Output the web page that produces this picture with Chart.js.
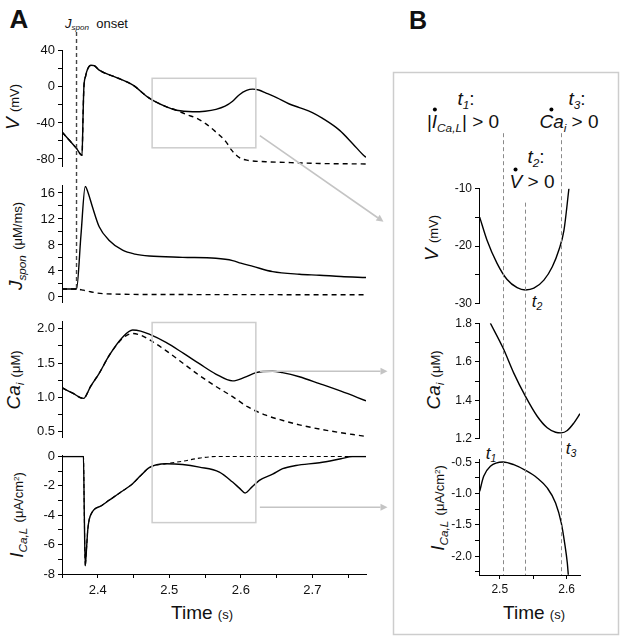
<!DOCTYPE html>
<html>
<head>
<meta charset="utf-8">
<script src="https://cdn.jsdelivr.net/npm/chart.js@4.4.1/dist/chart.umd.min.js"></script>
<style>
    body { margin: 0; background: #fff; }
    #page { position: relative; width: 625px; height: 642px; overflow: hidden; font-family: "Liberation Sans", Arial, sans-serif; color: #111; }
    canvas { position: absolute; }
    .t { position: absolute; white-space: nowrap; line-height: 1; transform: translate(-50%, -50%); }
    .rot { transform: translate(-50%, -50%) rotate(-90deg); }
    .ttl { font-size: 19px; }
    .sb { font-size: 0.62em; position: relative; top: 0.3em; }
    .sp { font-size: 0.62em; position: relative; top: -0.55em; }
    .u { font-size: 13px; }
    .d { position: relative; display: inline-block; }
    .d::before { content: ""; position: absolute; left: 50%; top: -4px; width: 4px; height: 4px; margin-left: -2px; border-radius: 50%; background: #000; }
</style>
</head>
<body>
<div id="page">
    <div class="t" style="left:19px;top:19px;font-size:26px;font-weight:bold">A</div>
    <div class="t" style="left:418px;top:20px;font-size:25px;font-weight:bold">B</div>
    <div class="t" style="left:65px;top:24px;font-size:13px;transform:translateY(-50%)"><i>J</i><span class="sb"><i>spon</i></span>&nbsp; onset</div>

    <!-- panel A axis titles -->
    <div class="t rot ttl" style="left:12px;top:107px"><i>V</i> <span class="u">(mV)</span></div>
    <div class="t rot ttl" style="left:15px;top:246px"><i>J</i><span class="sb"><i>spon</i></span> <span class="u">(μM/ms)</span></div>
    <div class="t rot ttl" style="left:13px;top:380px"><i>Ca</i><span class="sb"><i>i</i></span> <span class="u">(μM)</span></div>
    <div class="t rot ttl" style="left:16px;top:515px"><i>I</i><span class="sb"><i>Ca,L</i></span> <span class="u">(μA/cm<span class="sp">2</span>)</span></div>
    <div class="t ttl" style="left:202px;top:612px">Time <span class="u">(s)</span></div>

    <!-- panel B axis titles -->
    <div class="t rot ttl" style="left:431px;top:238px"><i>V</i> <span class="u">(mV)</span></div>
    <div class="t rot ttl" style="left:433px;top:380px"><i>Ca</i><span class="sb"><i>i</i></span> <span class="u">(μM)</span></div>
    <div class="t rot ttl" style="left:437px;top:508px"><i>I</i><span class="sb"><i>Ca,L</i></span> <span class="u">(μA/cm<span class="sp">2</span>)</span></div>
    <div class="t ttl" style="left:534px;top:612px">Time <span class="u">(s)</span></div>

    <!-- panel B event labels -->
    <div class="t ttl" style="left:466px;top:98px"><i>t</i><span class="sb"><i>1</i></span>:</div>
    <div class="t ttl" style="left:463px;top:121px">|<span class="d"><i>I</i></span><span class="sb"><i>Ca,L</i></span>| &gt; 0</div>
    <div class="t ttl" style="left:577px;top:98px"><i>t</i><span class="sb"><i>3</i></span>:</div>
    <div class="t ttl" style="left:569px;top:121px"><span class="d"><i>Ca</i></span><span class="sb"><i>i</i></span> &gt; 0</div>
    <div class="t ttl" style="left:536px;top:156px"><i>t</i><span class="sb"><i>2</i></span>:</div>
    <div class="t ttl" style="left:532px;top:181px"><span class="d"><i>V</i></span> &gt; 0</div>
    <div class="t" style="left:537px;top:301px;font-size:17px"><i>t</i><span class="sb"><i>2</i></span></div>
    <div class="t" style="left:571px;top:448px;font-size:17px"><i>t</i><span class="sb"><i>3</i></span></div>
    <div class="t" style="left:491px;top:453px;font-size:17px"><i>t</i><span class="sb"><i>1</i></span></div>
</div>

<script>
// ---- panel A (whole beat): solid = with J_spon, dashed = without ----
const tMinA = 2.35, tMaxA = 2.775;
const onsetTime = 2.3703;
const zoomWindow = [2.476, 2.621];

const vSolidT = [2.350, 2.360, 2.370, 2.378, 2.3795, 2.3805, 2.383, 2.386, 2.3905, 2.395, 2.402, 2.4255, 2.4487, 2.472, 2.4954, 2.510, 2.5326, 2.550, 2.5653, 2.578, 2.5885, 2.598, 2.608, 2.6165, 2.625, 2.6353, 2.650, 2.6678, 2.6818, 2.700, 2.7144, 2.7378, 2.7564, 2.7727, 2.775];
const vSolid = [-50, -59, -68, -76, -30, -2, 12, 20, 24, 23.5, 18.5, 10.6, 2.2, -12.5, -22, -26, -27.6, -27, -25, -21.5, -16, -8.7, -4, -2.5, -3.5, -6.9, -12, -19, -23, -28.5, -35, -48, -63, -76.7, -78];
const vDashT = [2.350, 2.360, 2.370, 2.378, 2.3795, 2.3805, 2.383, 2.386, 2.3905, 2.395, 2.402, 2.4255, 2.4487, 2.472, 2.4954, 2.510, 2.5234, 2.540, 2.5513, 2.565, 2.5793, 2.588, 2.598, 2.610, 2.635, 2.670, 2.710, 2.775];
const vDashed = [-50, -59, -68, -76, -30, -2, 12, 20, 24, 23.5, 18.5, 10.6, 2.2, -12.5, -22, -26, -30.5, -35.5, -41, -50, -61, -71, -78.5, -81.5, -83, -84, -85, -85.5];

const jSolidT = [2.350, 2.3703, 2.3765, 2.3825, 2.386, 2.3927, 2.402, 2.416, 2.4347, 2.452, 2.472, 2.5186, 2.565, 2.5885, 2.600, 2.617, 2.6445, 2.6818, 2.710, 2.740, 2.775];
const jSolid = [1.22, 1.22, 9.5, 17.0, 16.2, 13.8, 10.8, 8.7, 7.2, 6.6, 6.3, 6.1, 5.95, 5.6, 5.2, 4.7, 3.9, 3.5, 3.35, 3.15, 3.0];
const jDashT = [2.350, 2.3703, 2.380, 2.390, 2.400, 2.420, 2.500, 2.775];
const jDashed = [1.22, 1.22, 1.05, 0.8, 0.6, 0.45, 0.38, 0.35];

const caSolidT = [2.350, 2.365, 2.380, 2.390, 2.402, 2.416, 2.4347, 2.4487, 2.460, 2.472, 2.4954, 2.520, 2.542, 2.565, 2.5885, 2.605, 2.6212, 2.6445, 2.658, 2.6818, 2.710, 2.740, 2.775];
const caSolid = [1.14, 1.06, 0.985, 1.16, 1.35, 1.61, 1.875, 1.98, 1.965, 1.92, 1.80, 1.64, 1.49, 1.34, 1.24, 1.29, 1.36, 1.38, 1.36, 1.30, 1.20, 1.09, 0.95];
const caDashT = [2.350, 2.365, 2.380, 2.390, 2.402, 2.416, 2.4347, 2.4487, 2.460, 2.472, 2.4954, 2.520, 2.542, 2.565, 2.5885, 2.610, 2.635, 2.660, 2.6818, 2.720, 2.775];
const caDashed = [1.14, 1.06, 0.985, 1.16, 1.35, 1.61, 1.86, 1.93, 1.905, 1.84, 1.68, 1.49, 1.32, 1.16, 1.01, 0.86, 0.74, 0.66, 0.60, 0.52, 0.43];

const iSolidT = [2.350, 2.380, 2.3812, 2.3825, 2.384, 2.386, 2.388, 2.392, 2.395, 2.405, 2.416, 2.430, 2.4487, 2.460, 2.472, 2.4954, 2.5186, 2.542, 2.570, 2.5885, 2.598, 2.606, 2.615, 2.6259, 2.6445, 2.6585, 2.677, 2.710, 2.740, 2.756, 2.775];
const iSolid = [0, 0, -4, -7.45, -6.5, -5, -4.3, -3.8, -3.6, -3.35, -2.97, -2.5, -1.85, -1.3, -0.75, -0.49, -0.54, -0.72, -1.06, -1.74, -2.15, -2.48, -2.1, -1.62, -1.2, -0.83, -0.61, -0.42, -0.15, 0, 0];
const iDashT = [2.350, 2.380, 2.3812, 2.3825, 2.384, 2.386, 2.388, 2.392, 2.395, 2.405, 2.416, 2.430, 2.4487, 2.460, 2.472, 2.4954, 2.5186, 2.542, 2.565, 2.775];
const iDashed = [0, 0, -4, -7.45, -6.5, -5, -4.3, -3.8, -3.6, -3.35, -2.97, -2.5, -1.85, -1.3, -0.75, -0.49, -0.32, -0.11, 0, 0];

// ---- panel B (zoom of the window) ----
const tMinB = 2.469, tMaxB = 2.62;
const eventTimes = [2.5045, 2.5385, 2.592]; // t1, t2, t3
const bVT = [2.470, 2.481, 2.496, 2.511, 2.526, 2.5385, 2.551, 2.566, 2.5786, 2.5884, 2.596, 2.6034];
const bV = [-15.0, -19.0, -23.0, -25.8, -27.2, -27.6, -27.3, -25.9, -23.6, -20.7, -17.3, -10.1];
const bCaT = [2.486, 2.505, 2.521, 2.5385, 2.556, 2.571, 2.5835, 2.592, 2.601, 2.611, 2.620];
const bCa = [1.80, 1.671, 1.541, 1.42, 1.317, 1.257, 1.234, 1.231, 1.243, 1.283, 1.33];
const bIT = [2.470, 2.476, 2.486, 2.505, 2.521, 2.5385, 2.556, 2.571, 2.5835, 2.592, 2.597, 2.601, 2.6025];
const bI = [-0.963, -0.723, -0.564, -0.494, -0.537, -0.628, -0.749, -0.909, -1.148, -1.467, -1.786, -2.105, -2.297];

const FONT = "'Liberation Sans', Arial, sans-serif";
const page = document.getElementById("page");

function pts(ts, vs) {
    return ts.map((t, k) => ({ x: t, y: vs[k] }));
}

// label only the major ticks
function majorLabel(major, digits) {
    return v => {
        const r = v / major;
        return Math.abs(r - Math.round(r)) < 1e-6 ? v.toFixed(digits) : "";
    };
}

function makePanel(box, o) {
    const padT = 10, padR = 10;
    const padB = o.xAxis ? 2 : 10;
    const xH = o.xAxis ? o.xAxis.height : 0;
    const c = document.createElement("canvas");
    c.width = o.yW + (box.right - box.left) + padR;
    c.height = padT + (box.bottom - box.top) + xH + padB;
    c.style.left = (box.left - o.yW) + "px";
    c.style.top = (box.top - padT) + "px";
    page.appendChild(c);

    const tickFont = { family: FONT, size: o.fontSize };
    const datasets = o.series.map(s => ({
        data: pts(s.t, s.v),
        borderColor: "#000",
        borderWidth: s.w || 1.4,
        borderDash: s.dash || [],
        pointRadius: 0,
        cubicInterpolationMode: "monotone",
        fill: false
    }));

    return new Chart(c, {
        type: "line",
        data: { datasets: datasets },
        options: {
            responsive: false,
            animation: false,
            events: [],
            layout: { padding: { top: padT, right: padR, bottom: padB, left: 0 } },
            plugins: { legend: { display: false }, tooltip: { enabled: false } },
            scales: {
                x: {
                    type: "linear",
                    min: o.xMin,
                    max: o.xMax,
                    display: !!o.xAxis,
                    afterFit: s => { s.height = xH; },
                    border: { color: "#000", width: 1 },
                    grid: { drawOnChartArea: false, tickLength: 4, tickColor: "#000" },
                    ticks: {
                        stepSize: 0.05, autoSkip: false, includeBounds: false, maxRotation: 0,
                        font: tickFont, color: "#111", padding: o.xAxis ? o.xAxis.pad : 3,
                        callback: majorLabel(0.1, 1)
                    }
                },
                y: {
                    min: o.yMin,
                    max: o.yMax,
                    afterFit: s => { s.width = o.yW; },
                    border: { color: "#000", width: 1 },
                    grid: { drawOnChartArea: false, tickLength: 4, tickColor: "#000" },
                    ticks: {
                        stepSize: o.minor, autoSkip: false, includeBounds: false,
                        font: tickFont, color: "#111", padding: 3,
                        callback: majorLabel(o.major, o.digits)
                    }
                }
            }
        }
    });
}

const dash = [5, 4];
const aBase = { xMin: tMinA, xMax: tMaxA, yW: 46, fontSize: 13 };

const aV = makePanel({ left: 62, right: 366, top: 50, bottom: 167 }, Object.assign({}, aBase, {
    yMin: -88, yMax: 40, minor: 20, major: 40, digits: 0,
    series: [{ t: vSolidT, v: vSolid }, { t: vDashT, v: vDashed, dash: dash }]
}));
const aJ = makePanel({ left: 62, right: 366, top: 185, bottom: 303 }, Object.assign({}, aBase, {
    yMin: -0.8, yMax: 17.1, minor: 2, major: 4, digits: 0,
    series: [{ t: jSolidT, v: jSolid }, { t: jDashT, v: jDashed, dash: dash }]
}));
const aCa = makePanel({ left: 62, right: 366, top: 321, bottom: 438 }, Object.assign({}, aBase, {
    yMin: 0.42, yMax: 2.1, minor: 0.25, major: 0.5, digits: 1,
    series: [{ t: caSolidT, v: caSolid }, { t: caDashT, v: caDashed, dash: dash }]
}));
const aI = makePanel({ left: 62, right: 366, top: 455, bottom: 574 }, Object.assign({}, aBase, {
    yMin: -8, yMax: 0.05, minor: 1, major: 2, digits: 0,
    xAxis: { height: 30, pad: 5 },
    series: [{ t: iSolidT, v: iSolid }, { t: iDashT, v: iDashed, dash: [4, 3], w: 1.1 }]
}));

const bBase = { xMin: tMinB, xMax: tMaxB, yW: 44, fontSize: 12 };
const bVc = makePanel({ left: 479, right: 580, top: 188, bottom: 304 }, Object.assign({}, bBase, {
    yMin: -30, yMax: -10, minor: 5, major: 10, digits: 0,
    series: [{ t: bVT, v: bV }]
}));
const bCac = makePanel({ left: 479, right: 580, top: 323, bottom: 439 }, Object.assign({}, bBase, {
    yMin: 1.2, yMax: 1.8, minor: 0.1, major: 0.2, digits: 1,
    series: [{ t: bCaT, v: bCa }]
}));
const bIc = makePanel({ left: 479, right: 580, top: 459, bottom: 575 }, Object.assign({}, bBase, {
    yMin: -2.3, yMax: -0.45, minor: 0.25, major: 0.5, digits: 1,
    xAxis: { height: 28, pad: 3 },
    series: [{ t: bIT, v: bI }]
}));

// ---- overlay: zoom boxes, arrows, frame of B, event lines ----
const ov = document.createElement("canvas");
ov.width = 625;
ov.height = 642;
ov.style.left = "0px";
ov.style.top = "0px";
page.appendChild(ov);
const g = ov.getContext("2d");

const X = (ch, t) => ch.canvas.offsetLeft + ch.scales.x.getPixelForValue(t);
const Y = (ch, v) => ch.canvas.offsetTop + ch.scales.y.getPixelForValue(v);

function arrow(x0, y0, x1, y1) {
    const a = Math.atan2(y1 - y0, x1 - x0);
    const L = 7, W = 3.5;
    g.beginPath();
    g.moveTo(x0, y0);
    g.lineTo(x1 - L * Math.cos(a), y1 - L * Math.sin(a));
    g.stroke();
    g.beginPath();
    g.moveTo(x1, y1);
    g.lineTo(x1 - L * Math.cos(a) + W * Math.sin(a), y1 - L * Math.sin(a) - W * Math.cos(a));
    g.lineTo(x1 - L * Math.cos(a) - W * Math.sin(a), y1 - L * Math.sin(a) + W * Math.cos(a));
    g.closePath();
    g.fill();
}

const frame = { x: 393.5, y: 72.5, w: 225, h: 562 };
g.strokeStyle = "#cdcdcd";
g.lineWidth = 1.5;
g.strokeRect(frame.x, frame.y, frame.w, frame.h);

const zx0 = X(aV, zoomWindow[0]), zx1 = X(aV, zoomWindow[1]);
g.strokeRect(zx0, Y(aV, 9.5), zx1 - zx0, Y(aV, -67.6) - Y(aV, 9.5));
g.strokeRect(zx0, Y(aCa, 2.09), zx1 - zx0, Y(aI, -4.5) - Y(aCa, 2.09));

g.strokeStyle = "#c4c4c4";
g.fillStyle = "#c4c4c4";
g.lineWidth = 1.6;
arrow(zx1 + 4, Y(aV, -54), frame.x - 10, Y(bVc, -15.8));
arrow(zx1 + 4, Y(aCa, 1.38), frame.x - 6, Y(aCa, 1.38));
arrow(zx1 + 4, Y(aI, -3.45), frame.x - 6, Y(aI, -3.45));

// J_spon onset marker
g.strokeStyle = "#444";
g.lineWidth = 1.4;
g.setLineDash([4, 3]);
const ox = X(aV, onsetTime);
g.beginPath();
g.moveTo(ox, 32);
g.lineTo(ox, Y(aJ, 1.22));
g.stroke();

// t1, t2, t3 lines in panel B
g.strokeStyle = "#8a8a8a";
g.lineWidth = 1;
const lineTops = [bVc.chartArea.top + bVc.canvas.offsetTop - 55, Y(bVc, -12.5), bVc.chartArea.top + bVc.canvas.offsetTop - 55];
eventTimes.forEach((t, k) => {
    const x = Math.round(X(bIc, t)) + 0.5;
    g.beginPath();
    g.moveTo(x, lineTops[k]);
    g.lineTo(x, Y(bIc, -2.3));
    g.stroke();
});
g.setLineDash([]);
</script>
</body>
</html>
